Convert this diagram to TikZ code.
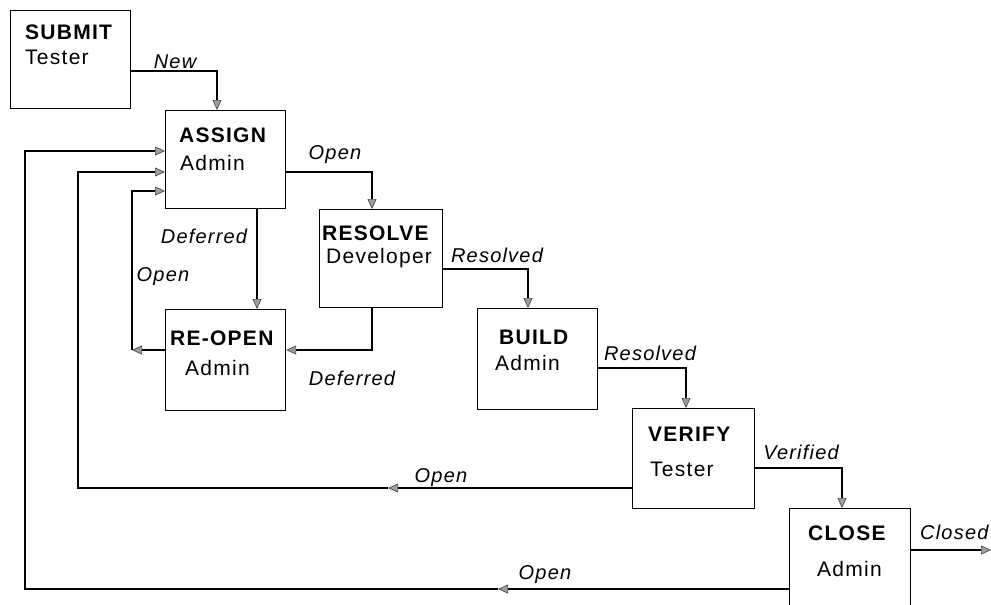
\documentclass[tikz,border=0pt]{standalone}
\usepackage{fontspec}
\setmainfont{Liberation Sans}[LetterSpace=6]
\usetikzlibrary{arrows.meta}
\begin{document}
\begin{tikzpicture}[x=1pt,y=-1pt,
  box/.style={draw, line width=1.2pt, inner sep=0pt, anchor=north west},
  ttl/.style={font=\bfseries\fontsize{21}{24}\selectfont, anchor=west, inner sep=0pt},
  sub/.style={font=\fontsize{21}{24}\selectfont, anchor=west, inner sep=0pt},
  lbl/.style={font=\itshape\fontsize{20}{24}\selectfont, inner sep=0pt},
  conn/.style={line width=1.1pt},
  arr/.style={conn, -{Triangle[length=10pt,width=9pt,fill=gray!75,color=black!70,line width=0.7pt]}}
]
\useasboundingbox (0,0) rectangle (991,605);
% boxes
\node[box, minimum width=120pt, minimum height=98pt]  (submit)  at (10,10)   {};
\node[box, minimum width=120pt, minimum height=98pt]  (assign)  at (165,110) {};
\node[box, minimum width=123pt, minimum height=98pt]  (resolve) at (319,209) {};
\node[box, minimum width=120pt, minimum height=101pt] (reopen)  at (165,309) {};
\node[box, minimum width=120pt, minimum height=101pt] (build)   at (477,308) {};
\node[box, minimum width=122pt, minimum height=100pt] (verify)  at (632,408) {};
\node[box, minimum width=121pt, minimum height=120pt] (close)   at (789,508) {};
% box texts
\node[ttl] (t1) at (25,32)  {SUBMIT};   \node[sub] (s1) at (25,57)  {Tester};
\node[ttl] (t2) at (179,135) {ASSIGN};  \node[sub] (s2) at (180,163) {Admin};
\node[ttl] (t3) at (322,233) {RESOLVE}; \node[sub] (s3) at (326,258) {Developer};
\node[ttl] (t4) at (170,338) {RE-OPEN}; \node[sub] (s4) at (185,368) {Admin};
\node[ttl] (t5) at (499,337) {BUILD};   \node[sub] (s5) at (495,363) {Admin};
\node[ttl] (t6) at (648,434) {VERIFY};  \node[sub] (s6) at (650,469) {Tester};
\node[ttl] (t7) at (808,533) {CLOSE};   \node[sub] (s7) at (817,569) {Admin};
% labels
\node[lbl] (l1)  at (175,62)  {New};
\node[lbl] (l2)  at (335,155) {Open};
\node[lbl] (l3)  at (204,236) {Deferred};
\node[lbl] (l4)  at (163,277) {Open};
\node[lbl] (l5)  at (497,255) {Resolved};
\node[lbl] (l6)  at (352,378) {Deferred};
\node[lbl] (l7)  at (650,353) {Resolved};
\node[lbl] (l8)  at (801,452) {Verified};
\node[lbl, anchor=west] (l9) at (920,532) {Closed};
\node[lbl] (l10) at (441,478) {Open};
\node[lbl] (l11) at (545,575) {Open};
% helper coordinates
\coordinate (c1) at (132,350);
\coordinate (m1) at (388,488);
\coordinate (m2) at (498,589);
\coordinate (endc) at (991,550);
% connectors
\draw[arr] (submit.east |- 0,71) -| (assign.north -| 217,0);
\draw[arr] (assign.east |- 0,172) -| (resolve.north -| 372,0);
\draw[arr] (assign.south -| 257,0) -- (reopen.north -| 257,0);
\draw[arr] (resolve.south -| 372,0) |- (reopen.east |- 0,350);
\draw[arr] (reopen.west |- 0,350) -- (c1);
\draw[arr] (c1) |- (assign.west |- 0,191);
\draw[arr] (resolve.east |- 0,269) -| (build.north -| 528,0);
\draw[arr] (build.east |- 0,368) -| (verify.north -| 686,0);
\draw[arr] (verify.east |- 0,468) -| (close.north -| 842,0);
\draw[arr] (close.east |- 0,550) -- (endc);
\draw[arr] (verify.west |- 0,488) -- (m1);
\draw[arr] (m1) -- (78,488) |- (assign.west |- 0,172);
\draw[arr] (close.west |- 0,589) -- (m2);
\draw[arr] (m2) -- (25,589) |- (assign.west |- 0,151);
\end{tikzpicture}
\end{document}
